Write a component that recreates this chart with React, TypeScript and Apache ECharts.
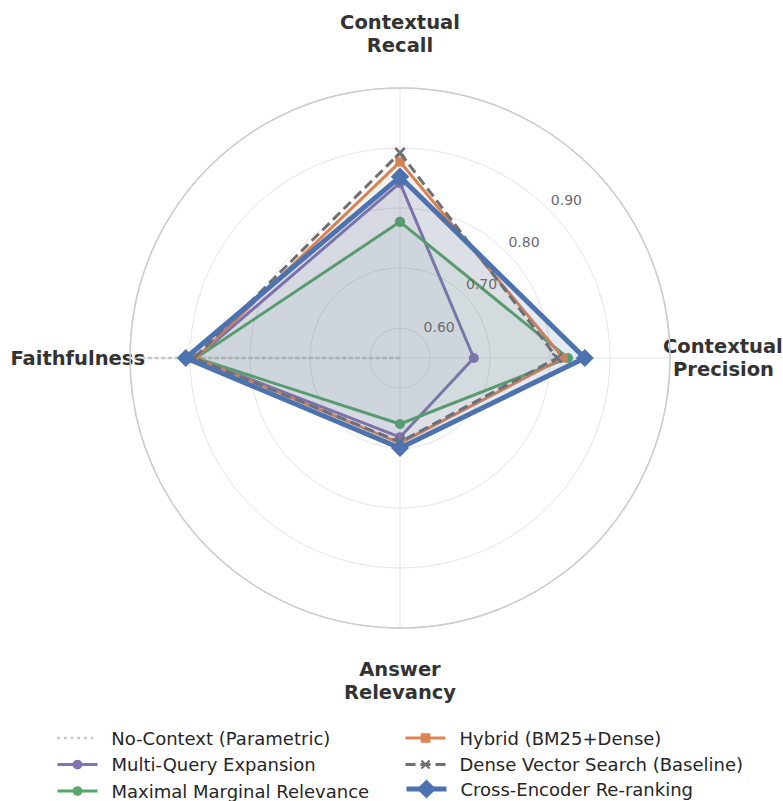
import React, { useEffect, useRef } from 'react';
import * as echarts from 'echarts';

// Axes (clockwise from the top)
const CATEGORIES = ['Contextual Recall', 'Contextual Precision', 'Answer Relevancy', 'Faithfulness'];
const CATEGORY_ANGLES = [0, 90, 180, 270];
const RADIAL_MIN = 0.55;
const RADIAL_MAX = 1.0;

// Series values in the order of CATEGORIES
const SERIES_NAMES = [
  'No-Context (Parametric)',
  'Multi-Query Expansion',
  'Maximal Marginal Relevance',
  'Hybrid (BM25+Dense)',
  'Dense Vector Search (Baseline)',
  'Cross-Encoder Re-ranking',
];
const NO_CONTEXT = [0.55, 0.55, 0.55, 0.978];
const MULTI_QUERY = [0.842, 0.673, 0.682, 0.89];
const MMR = [0.777, 0.83, 0.66, 0.89];
const HYBRID = [0.877, 0.822, 0.692, 0.89];
const DENSE = [0.892, 0.812, 0.69, 0.893];
const CROSS_ENCODER = [0.852, 0.858, 0.70, 0.907];

const FONT = 'DejaVu Sans';
const X_MARK = 'path://M0,1.5L1.5,0L5,3.5L8.5,0L10,1.5L6.5,5L10,8.5L8.5,10L5,6.5L1.5,10L0,8.5L3.5,5Z';

const loop = (vals: number[]) => {
  const pts = vals.map((v, i) => [v, CATEGORY_ANGLES[i]]);
  pts.push([vals[0], 360]);
  return pts;
};

export default function App() {
  const ref = useRef<HTMLDivElement>(null);
  useEffect(() => {
    if (!ref.current) return;
    const chart = echarts.init(ref.current, null, { renderer: 'svg' });

    const center = [400, 358];
    const radius = 270;

    const styles = [
      { data: NO_CONTEXT, color: '#c8c8c8', width: 2.5, type: [2.7, 4], symbol: 'none', size: 0, area: 0 },
      { data: MULTI_QUERY, color: '#8172B3', width: 3, type: 'solid', symbol: 'circle', size: 10, area: 0.05 },
      { data: MMR, color: '#55A868', width: 3, type: 'solid', symbol: 'circle', size: 10, area: 0.05 },
      { data: HYBRID, color: '#DD8452', width: 3, type: 'solid', symbol: 'rect', size: 9, area: 0.05 },
      { data: DENSE, color: '#707070', width: 3, type: [10, 5], symbol: X_MARK, size: 11, area: 0.05 },
      { data: CROSS_ENCODER, color: '#4C72B0', width: 5, type: 'solid', symbol: 'diamond', size: 18, area: 0.15 },
    ];

    const series = styles.map((s, i) => ({
      name: SERIES_NAMES[i],
      type: 'line',
      coordinateSystem: 'polar',
      polarIndex: 0,
      data: loop(s.data),
      symbol: s.symbol,
      symbolSize: s.size,
      showSymbol: s.symbol !== 'none',
      color: s.color,
      itemStyle: { color: s.color, borderWidth: 0 },
      lineStyle: { color: s.color, width: s.width, type: s.type },
      areaStyle: s.area > 0 ? { color: s.color, opacity: s.area } : undefined,
      emphasis: { disabled: true },
      z: 2 + i,
    }));

    const legendPos = [
      [56, 738], [56, 764.5], [56, 791],
      [404, 738], [404, 764.5], [404, 791],
    ];
    const TEXT_H = 20;
    const legends = SERIES_NAMES.map((name, i) => {
      const ih = i === 5 ? 24 : 12;
      return {
        data: [name],
        left: legendPos[i][0],
        top: legendPos[i][1] - Math.max(ih, TEXT_H) / 2,
        orient: 'vertical',
        itemWidth: 40,
        itemHeight: ih,
        padding: 0,
        selectedMode: false,
        lineStyle: { color: styles[i].color, width: styles[i].width, type: styles[i].type },
        itemStyle: {
          color: styles[i].color,
          borderWidth: 0,
          opacity: styles[i].symbol === 'none' ? 0 : 1,
        },
        textStyle: { fontSize: 18, fontFamily: FONT, color: '#262626', padding: [0, 0, 0, 9], lineHeight: TEXT_H },
      };
    });

    const nameStyle = { fontSize: 19.5, fontWeight: 'bold', color: '#333333', fontFamily: FONT, lineHeight: 23 };

    const formatAngle = (v: number) => {
      const idx = CATEGORY_ANGLES.indexOf(v);
      if (idx < 0) return '';
      const name = CATEGORIES[idx];
      const sp = name.indexOf(' ');
      const l1 = sp >= 0 ? name.slice(0, sp) : name;
      const l2 = sp >= 0 ? name.slice(sp + 1) : '';
      if (idx === 0) return `{n|${l1}}\n{n|${l2}}\n{top| }`;
      if (idx === 1) return `{r1|${l1}}\n{r2|${l2}}`;
      if (idx === 2) return `{bot| }\n{n|${l1}}\n{n|${l2}}`;
      return `{n|${l1}}`;
    };

    const option = {
      animation: false,
      backgroundColor: '#ffffff',
      polar: [
        { center, radius },
        { center: [center[0] + 33.5, center[1] - 10], radius },
      ],
      angleAxis: [
        {
          polarIndex: 0,
          type: 'value',
          min: 0,
          max: 360,
          interval: 90,
          startAngle: 90,
          clockwise: true,
          axisLine: { show: true, lineStyle: { color: '#cccccc', width: 1.5 } },
          axisTick: { show: false },
          splitLine: { show: true, lineStyle: { color: '#e5e5e5', width: 1 } },
          axisLabel: {
            show: true,
            margin: -15,
            formatter: formatAngle,
            fontFamily: FONT,
            rich: {
              n: nameStyle,
              r1: { ...nameStyle, padding: [0, 0, 0, 8] },
              r2: { ...nameStyle, padding: [0, 0, 0, 18] },
              top: { fontSize: 2, lineHeight: 46 },
              bot: { fontSize: 2, lineHeight: 45 },
            },
          },
          z: 1,
        },
        {
          polarIndex: 1,
          type: 'value',
          min: 0,
          max: 360,
          startAngle: 45,
          show: false,
        },
      ],
      radiusAxis: [
        {
          polarIndex: 0,
          type: 'value',
          min: RADIAL_MIN,
          max: RADIAL_MAX,
          axisLine: { show: false },
          axisTick: { show: false },
          axisLabel: { show: false },
          splitLine: {
            show: true,
            lineStyle: { color: ['#e5e5e5', '#e5e5e5', '#e5e5e5', '#e5e5e5', '#e5e5e5', '#cccccc'], width: 1 },
          },
          z: 0,
        },
        {
          polarIndex: 1,
          type: 'value',
          min: RADIAL_MIN,
          max: RADIAL_MAX,
          axisLine: { show: false },
          axisTick: { show: false },
          splitLine: { show: false },
          axisLabel: {
            show: true,
            margin: 0,
            color: '#6b6b6b',
            fontSize: 14,
            fontFamily: FONT,
            formatter: (v: number) => (v < RADIAL_MIN + 0.01 || v > RADIAL_MAX - 0.01 ? '' : v.toFixed(2)),
          },
          z: 10,
        },
      ],
      legend: legends,
      series,
    };

    chart.setOption(option as any);
    return () => chart.dispose();
  }, []);

  return (
    <div
      ref={ref}
      style={{ position: 'absolute', left: 0, top: 0, width: 783, height: 801, background: '#fff' }}
    />
  );
}
